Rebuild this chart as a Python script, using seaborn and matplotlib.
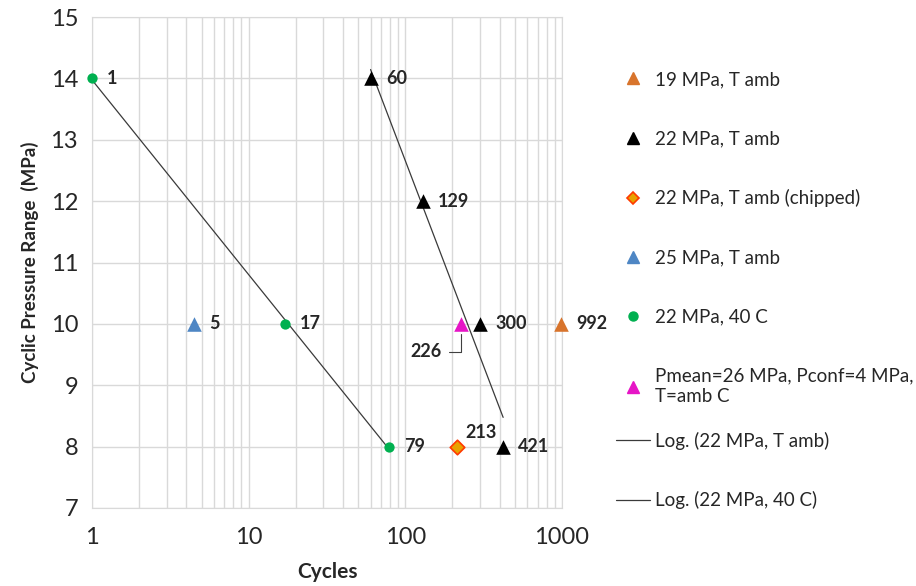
import numpy as np
import pandas as pd
import matplotlib
matplotlib.use("Agg")
import matplotlib.pyplot as plt
from matplotlib.ticker import LogLocator, NullFormatter, FuncFormatter
from matplotlib.lines import Line2D
import seaborn as sns

# ---- data ----
s19_x = [992]; s19_y = [10]
s22_x = [60, 129, 300, 421]; s22_y = [14, 12, 10, 8]
chip_x = [213]; chip_y = [8]
s25_x = [4.5]; s25_y = [10]
s40_x = [1, 17, 79]; s40_y = [14, 10, 8]
pm_x = [226]; pm_y = [10]

lab19 = ["992"]
lab22 = ["60", "129", "300", "421"]
labchip = ["213"]
lab25 = ["5"]
lab40 = ["1", "17", "79"]
labpm = ["226"]

legend_labels = ["19 MPa, T amb", "22 MPa, T amb", "22 MPa, T amb (chipped)",
                 "25 MPa, T amb", "22 MPa, 40 C",
                 "Pmean=26 MPa, Pconf=4 MPa,\nT=amb C"]
trend_labels = ["Log. (22 MPa, T amb)", "Log. (22 MPa, 40 C)"]
xticks = [1, 10, 100, 1000]
yticks = [7, 8, 9, 10, 11, 12, 13, 14, 15]

sns.set_style("white")
plt.rcParams['font.family'] = ['Lato', 'DejaVu Sans']

fig = plt.figure(figsize=(9.16, 5.86), dpi=100)
ax = fig.add_axes([92/916, 1-508/586, (562-92)/916, (508-17)/586])

c_or = "#D8742C"; c_bl = "#4E86C4"; c_gr = "#00B050"; c_pm = "#E615C6"

def sc(x, y, color, marker, size, ec=None, lw=0):
    df = pd.DataFrame({"x": x, "y": y})
    sns.scatterplot(data=df, x="x", y="y", ax=ax, color=color, marker=marker,
                    s=size, edgecolor=ec if ec else color, linewidth=lw, zorder=5,
                    clip_on=False)

sc(s19_x, s19_y, c_or, "^", 110)
sc(s22_x, s22_y, "black", "^", 110)
sc(chip_x, chip_y, "#E8A200", "D", 55, ec="#FF3A00", lw=1.2)
sc(s25_x, s25_y, c_bl, "^", 110)
sc(s40_x, s40_y, c_gr, "o", 55)
sc(pm_x, pm_y, c_pm, "^", 110)

# log trendlines fitted to data
def trend(x, y):
    x = np.array(x, float); y = np.array(y, float)
    b, a = np.polyfit(np.log(x), y, 1)
    xs = np.array([x.min(), x.max()])
    df = pd.DataFrame({"x": xs, "y": a + b*np.log(xs)})
    sns.lineplot(data=df, x="x", y="y", ax=ax, color="#3a3a3a", lw=0.9, zorder=4)
trend(s22_x, s22_y)
trend(s40_x, s40_y)

ax.set_xscale("log")
ax.set_xlim(1, 1000)
ax.set_ylim(7, 15)
ax.set_xticks(xticks)
ax.xaxis.set_major_formatter(FuncFormatter(lambda v, p: f"{int(round(v))}"))
ax.xaxis.set_minor_locator(LogLocator(base=10, subs=np.arange(2, 10)))
ax.xaxis.set_minor_formatter(NullFormatter())
ax.set_yticks(yticks)
ax.grid(True, which="both", axis="x", color="#d9d9d9", lw=1)
ax.grid(True, which="major", axis="y", color="#d9d9d9", lw=1)
ax.tick_params(axis="both", which="both", length=0, labelsize=17, pad=10)
ax.tick_params(axis="x", pad=14)
for s in ax.spines.values():
    s.set_color("#d9d9d9")
ax.set_xlabel("Cycles", fontsize=15, fontweight="bold", labelpad=10)
ax.set_ylabel("Cyclic Pressure Range  (MPa)", fontsize=13.5, fontweight="bold", labelpad=8)

def labels(x, y, labs, dx=11, dy=0, ha="left"):
    for xi, yi, t in zip(x, y, labs):
        ax.annotate(t, (xi, yi), xytext=(dx, dy), textcoords="offset points",
                    ha=ha, va="center", fontsize=13, fontweight="bold", zorder=6)
labels(s19_x, s19_y, lab19)
labels(s22_x, s22_y, lab22)
labels(s25_x, s25_y, lab25)
labels(s40_x, s40_y, lab40)
labels(chip_x, chip_y, labchip, dx=6, dy=10)
for xi, yi, t in zip(pm_x, pm_y, labpm):
    ax.annotate(t, (xi, yi), xytext=(-14, -20), textcoords="offset points",
                ha="right", va="center", fontsize=13, fontweight="bold", zorder=6,
                arrowprops=dict(arrowstyle="-", color="#404040", lw=0.8,
                                connectionstyle="angle,angleA=0,angleB=90,rad=0",
                                shrinkA=3, shrinkB=7))

hs = [
    Line2D([], [], ls="", marker="^", color=c_or, ms=9),
    Line2D([], [], ls="", marker="^", color="black", ms=9),
    Line2D([], [], ls="", marker="D", mfc="#E8A200", mec="#FF3A00", ms=6.5, mew=1.2),
    Line2D([], [], ls="", marker="^", color=c_bl, ms=9),
    Line2D([], [], ls="", marker="o", color=c_gr, ms=6.5),
    Line2D([], [], ls="", marker="^", color=c_pm, ms=9),
]
leg1 = fig.legend(hs, legend_labels, loc="upper left", bbox_to_anchor=(599/916, 1-54/586),
                  frameon=False, fontsize=13.5, labelspacing=2.25, handlelength=1.8,
                  handletextpad=0.3)
ths = [Line2D([], [], color="#3a3a3a", lw=0.9), Line2D([], [], color="#3a3a3a", lw=0.9)]
leg2 = fig.legend(ths, trend_labels, loc="upper left", bbox_to_anchor=(599/916, 1-415/586),
                  frameon=False, fontsize=13.5, labelspacing=2.2, handlelength=1.8,
                  handletextpad=0.3)

fig.savefig("out.png", dpi=100)
